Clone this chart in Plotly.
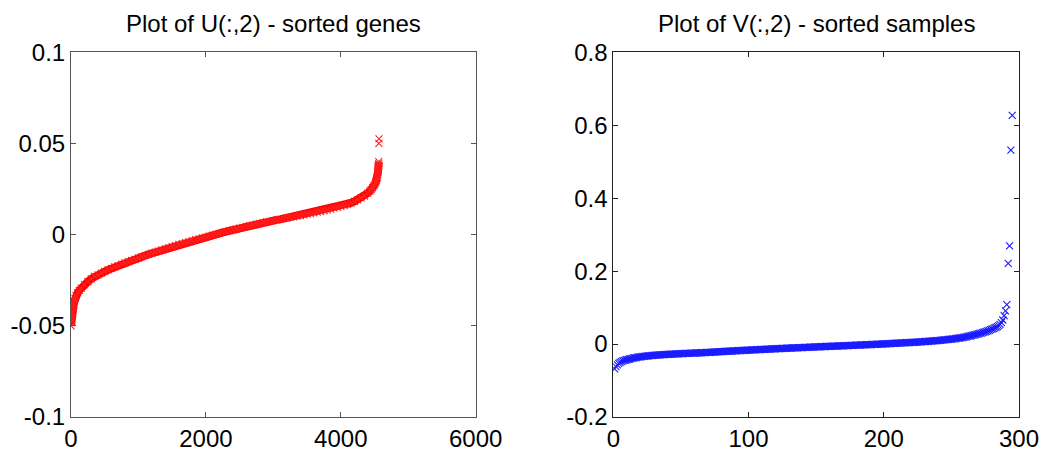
import plotly.graph_objects as go

# ---- Left panel: U(:,2) sorted genes ----
gene_idx = [0, 3, 6, 10, 15, 20, 30, 40, 50, 60, 75, 100, 125, 150,
            200, 250, 300, 350, 400, 450, 500, 550, 600, 650, 700, 750, 800,
            850, 900, 950, 1000, 1050, 1100, 1150, 1200, 1250, 1300, 1350,
            1400, 1450, 1500, 1550, 1600, 1650, 1700, 1750, 1800, 1850, 1900,
            1950, 2000, 2050, 2100, 2150, 2200, 2250, 2300, 2350, 2400, 2450,
            2500, 2550, 2600, 2650, 2700, 2750, 2800, 2850, 2900, 2950, 3000,
            3050, 3100, 3150, 3200, 3250, 3300, 3350, 3400, 3450, 3500, 3550,
            3600, 3650, 3700, 3750, 3800, 3850, 3900, 3950, 4000, 4050, 4100,
            4150, 4200, 4250, 4300, 4350, 4400, 4430, 4450, 4470, 4490, 4507,
            4520, 4530, 4542, 4548, 4552, 4556, 4559, 4561, 4563, 4565, 4567]
gene_val = [-0.0500, -0.0480, -0.0465, -0.0450, -0.0435, -0.0422, -0.0400,
            -0.0382, -0.0365, -0.0350, -0.0335, -0.0318, -0.0305, -0.0293,
            -0.0274, -0.0258, -0.0242, -0.0229, -0.0220, -0.0211, -0.0202,
            -0.0193, -0.0185, -0.0177, -0.0170, -0.0162, -0.0155, -0.0148,
            -0.0141, -0.0135, -0.0128, -0.0121, -0.0115, -0.0108, -0.0102,
            -0.0096, -0.0090, -0.0084, -0.0078, -0.0072, -0.0066, -0.0060,
            -0.0054, -0.0049, -0.0044, -0.0039, -0.0033, -0.0028, -0.0023,
            -0.0018, -0.0013, -0.0008, -0.0003, 0.0002, 0.0007, 0.0012,
            0.0017, 0.0022, 0.0026, 0.0031, 0.0036, 0.0040, 0.0045, 0.0049,
            0.0053, 0.0058, 0.0062, 0.0066, 0.0070, 0.0073, 0.0077, 0.0081,
            0.0084, 0.0088, 0.0091, 0.0095, 0.0098, 0.0101, 0.0105, 0.0108,
            0.0112, 0.0115, 0.0119, 0.0123, 0.0127, 0.0131, 0.0136, 0.0140,
            0.0145, 0.0150, 0.0155, 0.0160, 0.0166, 0.0174, 0.0182, 0.0191,
            0.0201, 0.0212, 0.0228, 0.0239, 0.0246, 0.0256, 0.0267, 0.0277,
            0.0290, 0.0300, 0.0313, 0.0330, 0.0345, 0.0365, 0.0380, 0.0390,
            0.0400, 0.0500, 0.0525]

# ---- Right panel: V(:,2) sorted samples ----
sample_val = [
    -0.068, -0.062, -0.057, -0.053, -0.050, -0.048, -0.046, -0.045, -0.044, -0.043,
    -0.042, -0.041, -0.040, -0.039, -0.038, -0.0375, -0.037, -0.036, -0.0355, -0.035,
    -0.0345, -0.034, -0.0335, -0.033, -0.0327, -0.0323, -0.032, -0.0316, -0.0312, -0.0309,
    -0.0306, -0.0303, -0.030, -0.0297, -0.0294, -0.0291, -0.0289, -0.0287, -0.0285, -0.0283,
    -0.0281, -0.0279, -0.0277, -0.0275, -0.0273, -0.0271, -0.0269, -0.0267, -0.0265, -0.0263,
    -0.0262, -0.0260, -0.0258, -0.0256, -0.0254, -0.0253, -0.0251, -0.0249, -0.0248, -0.0246,
    -0.0245, -0.0243, -0.0241, -0.0240, -0.0238, -0.0237, -0.0235, -0.0233, -0.0231, -0.0229,
    -0.0227, -0.0225, -0.0222, -0.0220, -0.0218, -0.0216, -0.0213, -0.0211, -0.0209, -0.0207,
    -0.0205, -0.0202, -0.0200, -0.0198, -0.0196, -0.0194, -0.0192, -0.0190, -0.0188, -0.0186,
    -0.0184, -0.0182, -0.0180, -0.0178, -0.0176, -0.0174, -0.0172, -0.0170, -0.0168, -0.0166,
    -0.0164, -0.0162, -0.0160, -0.0158, -0.0157, -0.0155, -0.0153, -0.0151, -0.0149, -0.0147,
    -0.0145, -0.0143, -0.0142, -0.0140, -0.0138, -0.0136, -0.0134, -0.0133, -0.0131, -0.0129,
    -0.0127, -0.0125, -0.0124, -0.0122, -0.0120, -0.0118, -0.0117, -0.0115, -0.0113, -0.0112,
    -0.0110, -0.0108, -0.0107, -0.0105, -0.0103, -0.0102, -0.0100, -0.0098, -0.0097, -0.0095,
    -0.0093, -0.0092, -0.0090, -0.0088, -0.0087, -0.0085, -0.0083, -0.0082, -0.0080, -0.0079,
    -0.0077, -0.0075, -0.0074, -0.0072, -0.0071, -0.0069, -0.0067, -0.0066, -0.0064, -0.0063,
    -0.0061, -0.0059, -0.0058, -0.0056, -0.0055, -0.0053, -0.0051, -0.0050, -0.0048, -0.0047,
    -0.0045, -0.0043, -0.0042, -0.0040, -0.0039, -0.0037, -0.0035, -0.0034, -0.0032, -0.0031,
    -0.0029, -0.0027, -0.0026, -0.0024, -0.0022, -0.0021, -0.0019, -0.0017, -0.0016, -0.0014,
    -0.0012, -0.0011, -0.0009, -0.0007, -0.0005, -0.0004, -0.0002, 0.0000, 0.0002, 0.0004,
    0.0006, 0.0008, 0.0010, 0.0012, 0.0014, 0.0016, 0.0018, 0.0020, 0.0022, 0.0024,
    0.0026, 0.0028, 0.0030, 0.0032, 0.0034, 0.0036, 0.0038, 0.0040, 0.0042, 0.0044,
    0.0046, 0.0048, 0.0050, 0.0053, 0.0055, 0.0057, 0.0060, 0.0062, 0.0065, 0.0068,
    0.0070, 0.0073, 0.0076, 0.0079, 0.0082, 0.0085, 0.0088, 0.0091, 0.0094, 0.0097,
    0.0100, 0.0104, 0.0108, 0.0112, 0.0116, 0.0120, 0.0124, 0.0128, 0.0132, 0.0136,
    0.0140, 0.0145, 0.0150, 0.0155, 0.0160, 0.0166, 0.0172, 0.0179, 0.0186, 0.0193,
    0.0200, 0.0208, 0.0216, 0.0224, 0.0233, 0.0242, 0.0251, 0.0261, 0.0271, 0.0281,
    0.0291, 0.0302, 0.0313, 0.0325, 0.0337, 0.0350, 0.0364, 0.0378, 0.0393, 0.0409,
    0.0425, 0.0442, 0.0460, 0.0480, 0.0505, 0.0540, 0.0590, 0.0660, 0.0780, 0.0910,
    0.1080, 0.2210, 0.2690, 0.5320, 0.6270]
sample_idx = list(range(1, len(sample_val) + 1))

left_xticks = [0, 2000, 4000, 6000]
left_yticks = [-0.1, -0.05, 0, 0.05, 0.1]
left_ytext = ["-0.1", "-0.05", "0", "0.05", "0.1"]
right_xticks = [0, 100, 200, 300]
right_yticks = [-0.2, 0, 0.2, 0.4, 0.6, 0.8]
right_ytext = ["-0.2", "0", "0.2", "0.4", "0.6", "0.8"]

titles = ["Plot of U(:,2) - sorted genes", "Plot of V(:,2) - sorted samples"]

W, H = 1046, 457
FONT = dict(family="Liberation Sans, Arial, sans-serif", size=24, color="black")

fig = go.Figure()
# dense band of the main sorted curve (outliers excluded from the band)
fig.add_trace(go.Scatter(
    x=gene_idx[:-2], y=gene_val[:-2], mode="lines", xaxis="x", yaxis="y",
    line=dict(color="#ff0000", width=8), showlegend=False, hoverinfo="skip"))
fig.add_trace(go.Scatter(
    x=gene_idx, y=gene_val, mode="markers", xaxis="x", yaxis="y",
    marker=dict(symbol="x-thin", size=7, line=dict(color="#ff2020", width=1.1)),
    showlegend=False, hoverinfo="skip"))
fig.add_trace(go.Scatter(
    x=sample_idx, y=sample_val, mode="markers", xaxis="x2", yaxis="y2",
    marker=dict(symbol="x-thin", size=7, line=dict(color="#1a1aff", width=1.1)),
    showlegend=False, hoverinfo="skip"))

axis_common = dict(showgrid=False, zeroline=False, showline=True, mirror="ticks",
                   linewidth=1, ticks="inside", ticklen=5,
                   tickfont=FONT, automargin=False)

ytop = 1 - 52.3 / H
ybot = 1 - 417 / H
fig.update_layout(
    template="none",
    width=W, height=H,
    margin=dict(l=0, r=0, t=0, b=0, pad=0),
    paper_bgcolor="white", plot_bgcolor="white",
    font=FONT,
    xaxis=dict(domain=[71 / W, 475.7 / W], range=[0, 6000], tickvals=left_xticks,
               anchor="y", linecolor="#555555", tickcolor="#555555", **axis_common),
    yaxis=dict(domain=[ybot, ytop], range=[-0.1, 0.1], tickvals=left_yticks,
               ticktext=left_ytext, anchor="x", linecolor="#555555",
               tickcolor="#555555", **axis_common),
    xaxis2=dict(domain=[613.3 / W, 1019 / W], range=[0, 300], tickvals=right_xticks,
                anchor="y2", linecolor="#222222", tickcolor="#222222", **axis_common),
    yaxis2=dict(domain=[ybot, ytop], range=[-0.2, 0.8], tickvals=right_yticks,
                ticktext=right_ytext, anchor="x2", linecolor="#222222",
                tickcolor="#222222", **axis_common),
    annotations=[
        dict(text=titles[0], x=(71 + 475.7) / 2 / W, y=1 - 23 / H, xref="paper",
             yref="paper", xanchor="center", yanchor="middle", showarrow=False,
             font=FONT),
        dict(text=titles[1], x=(613.3 + 1019) / 2 / W, y=1 - 23 / H, xref="paper",
             yref="paper", xanchor="center", yanchor="middle", showarrow=False,
             font=FONT),
    ],
)

fig.write_html("out.html")
